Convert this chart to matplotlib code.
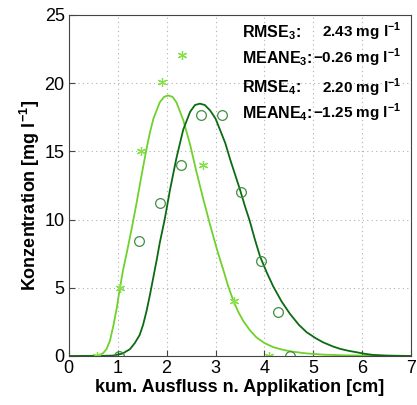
import matplotlib
matplotlib.use("Agg")
import matplotlib.pyplot as plt

plt.rcParams['font.family'] = ['Liberation Sans', 'DejaVu Sans']
plt.rcParams['mathtext.fontset'] = 'custom'
plt.rcParams['mathtext.rm'] = 'Liberation Sans:bold'
plt.rcParams['mathtext.bf'] = 'Liberation Sans:bold'

# measured values (stars = run 3, circles = run 4)
obs3_x = [0.57, 1.04, 1.47, 1.90, 2.31, 2.74, 3.38, 4.09]
obs3_y = [0.0, 5.0, 15.0, 20.1, 22.1, 14.0, 4.0, 0.0]
obs4_x = [1.02, 1.43, 1.86, 2.29, 2.70, 3.13, 3.52, 3.93, 4.28, 4.52]
obs4_y = [0.0, 8.4, 11.2, 14.0, 17.7, 17.7, 12.0, 7.0, 3.2, 0.0]

# fitted curves
fit3_x = [0.0, 0.43, 0.60, 0.70, 0.77, 0.84, 0.91, 0.98, 1.04, 1.11, 1.21, 1.30,
          1.39, 1.49, 1.59, 1.66, 1.73, 1.86, 1.95, 2.03, 2.12, 2.20, 2.34, 2.48,
          2.61, 2.75, 2.89, 3.03, 3.16, 3.26, 3.37, 3.47, 3.57, 3.70, 3.84, 4.00,
          4.18, 4.35, 4.52, 4.70, 4.86, 5.20, 5.60, 6.20, 7.0]
fit3_y = [0.0, 0.0, 0.05, 0.2, 0.5, 1.1, 2.2, 3.5, 4.9, 6.3, 8.0, 9.6,
          11.3, 13.3, 15.2, 16.4, 17.4, 18.6, 19.0, 19.1, 19.0, 18.6, 17.3, 15.5,
          13.5, 11.5, 9.6, 7.8, 6.3, 5.1, 4.0, 3.2, 2.55, 1.9, 1.35, 0.95,
          0.65, 0.48, 0.35, 0.26, 0.19, 0.1, 0.05, 0.02, 0.0]
fit4_x = [0.0, 0.60, 0.90, 1.10, 1.25, 1.35, 1.45, 1.52, 1.59, 1.66, 1.73, 1.80,
          1.86, 1.96, 2.07, 2.20, 2.34, 2.48, 2.58, 2.68, 2.78, 2.89, 3.00, 3.09,
          3.20, 3.30, 3.40, 3.50, 3.60, 3.70, 3.80, 3.91, 4.05, 4.18, 4.35, 4.52,
          4.70, 4.86, 5.05, 5.20, 5.40, 5.55, 5.72, 5.89, 6.05, 6.22, 6.50, 7.0]
fit4_y = [0.0, 0.0, 0.03, 0.18, 0.5, 0.95, 1.55, 2.3, 3.3, 4.5, 5.8, 7.1,
          8.3, 10.0, 12.2, 14.5, 16.6, 17.9, 18.4, 18.5, 18.4, 18.0, 17.4, 16.6,
          15.6, 14.4, 13.3, 12.2, 11.0, 9.9, 8.6, 7.3, 6.1, 5.1, 4.0, 3.1,
          2.3, 1.75, 1.3, 1.0, 0.7, 0.52, 0.38, 0.27, 0.16, 0.08, 0.03, 0.0]

stats_labels = ['RMSE$_3$:', 'MEANE$_3$:', 'RMSE$_4$:', 'MEANE$_4$:']
stats_values = ['2.43 mg l$^{-1}$', '\u22120.26 mg l$^{-1}$',
                '2.20 mg l$^{-1}$', '\u22121.25 mg l$^{-1}$']
stats_y = [23.4, 21.45, 19.3, 17.45]

light = '#6fd12c'
dark = '#0b6b12'

fig = plt.figure(figsize=(4.17, 4.05), dpi=100)
ax = fig.add_axes([0.165, 0.121, 0.821, 0.842])

ax.plot(fit3_x, fit3_y, color=light, lw=1.3)
ax.plot(fit4_x, fit4_y, color=dark, lw=1.3)
ax.plot(obs3_x, obs3_y, ls='none', marker=(6, 2, 0), ms=6.5, mew=0.9, color='#86e04a')
ax.plot(obs4_x, obs4_y, ls='none', marker='o', ms=7, mfc='none', mew=0.9, color='#3f8f3f')

for lab, val, yy in zip(stats_labels, stats_values, stats_y):
    ax.text(3.54, yy, lab, fontsize=11.5, fontweight='bold', va='baseline', ha='left')
    ax.text(6.80, yy, val, fontsize=11, fontweight='bold', va='baseline', ha='right')

ax.set_xlim(0, 7)
ax.set_ylim(0, 25)
ax.set_xticks(range(0, 8))
ax.set_yticks(range(0, 26, 5))
ax.grid(True, ls=(0, (1, 3)), color='#b0b0b0', lw=0.8)
ax.tick_params(direction='in', labelsize=13, length=4, color='#444444', pad=3)
for s in ax.spines.values():
    s.set_color('#444444')
    s.set_linewidth(0.8)

ax.set_xlabel('kum. Ausfluss n. Applikation [cm]', fontsize=13, fontweight='bold', labelpad=1)
ax.set_ylabel('Konzentration [mg l$^{-1}$]', fontsize=13, fontweight='bold')
ax.yaxis.set_label_coords(-0.078, 0.47)

fig.savefig('out.png', dpi=100)
